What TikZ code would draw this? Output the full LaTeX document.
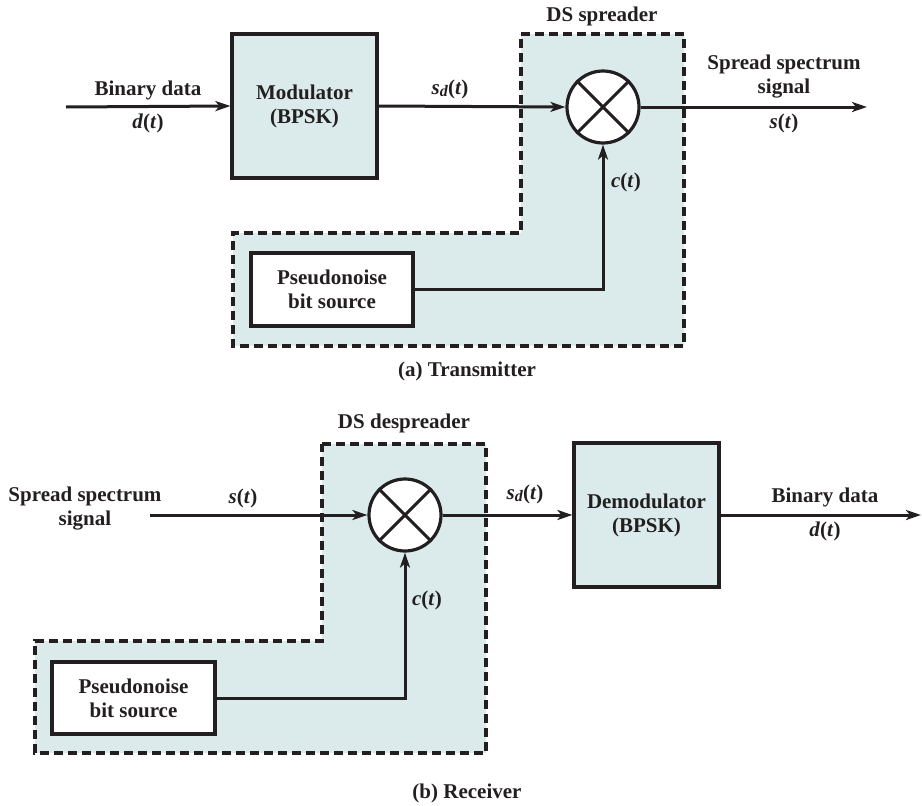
\documentclass[tikz,border=0pt]{standalone}
\usepackage{fontspec}
\setmainfont{Liberation Serif}
\usetikzlibrary{arrows.meta}
\definecolor{fillblue}{RGB}{219,235,236}
\definecolor{ink}{RGB}{35,31,32}
\newcommand\vi[1]{\textit{#1}}
\newcommand\sdt{\vi{s}\raisebox{-0.3ex}{\fontsize{16}{16}\selectfont\vi{d}}(\vi{t})}
\tikzset{
  lbl/.style={font=\fontsize{21}{24}\selectfont\bfseries, text=ink, inner sep=0pt, align=center},
  blockbox/.style={draw=ink, line width=3.2pt, fill=fillblue, inner sep=0pt},
  pnbox/.style={draw=ink, line width=3.2pt, fill=white, inner sep=0pt},
  mixer/.style={circle, draw=ink, line width=3.2pt, fill=white, minimum size=72pt, inner sep=0pt},
  region/.style={draw=ink, line width=3.2pt, fill=fillblue, dash pattern=on 9pt off 5pt},
  sig/.style={draw=ink, line width=3pt},
  arr/.style={sig, -{Stealth[length=15pt,width=10pt,inset=4pt]}}
}
\begin{document}
\begin{tikzpicture}[x=1pt,y=-1pt]
\useasboundingbox (0,0) rectangle (922,806);
% ================= (a) Transmitter =================
\path[region] (521,34) -- (684,34) -- (684,346) -- (233,346) -- (233,233) -- (521,233) -- cycle;
\node[lbl] (dsA) at (602,16) {DS spreader};
\node[blockbox, minimum width=145pt, minimum height=144pt] (mod) at (304.5,106) {};
\node[lbl] (modt) at (mod) {Modulator\\(BPSK)};
\node[mixer] (mixA) at (603,107) {};
\draw[sig] (mixA.45) -- (mixA.225) (mixA.135) -- (mixA.315);
\node[pnbox, minimum width=162pt, minimum height=73pt] (pnA) at (332,289.5) {};
\node[lbl] (pnAt) at (pnA) {Pseudonoise\\bit source};
\coordinate (ain) at (66,107);
\coordinate (aout) at (867,107);
\coordinate (acorner) at (603,289.5);
\draw[arr] (ain) -- (mod.west);
\draw[arr] (mod.east) -- (mixA.west);
\draw[arr] (mixA.east) -- (aout);
\draw[arr] (pnA.east) -- (acorner) -- (mixA.south);
\node[lbl] (bdA) at (148,90) {Binary data};
\node[lbl] (dtA) at (148,123) {\vi{d}(\vi{t})};
\node[lbl] (sdA) at (450,89) {\sdt};
\node[lbl] (ssA) at (784,77) {Spread spectrum\\signal};
\node[lbl] (stA) at (784,123) {\vi{s}(\vi{t})};
\node[lbl] (ctA) at (626,182) {\vi{c}(\vi{t})};
\node[lbl] (capA) at (467,371) {(a) Transmitter};
% ================= (b) Receiver =================
\path[region] (322,444) -- (486,444) -- (486,753) -- (35,753) -- (35,641) -- (322,641) -- cycle;
\node[lbl] (dsB) at (404,423) {DS despreader};
\node[mixer] (mixB) at (405,515) {};
\draw[sig] (mixB.45) -- (mixB.225) (mixB.135) -- (mixB.315);
\node[blockbox, minimum width=145pt, minimum height=144pt] (dem) at (646.5,515) {};
\node[lbl] (demt) at (dem) {Demodulator\\(BPSK)};
\node[pnbox, minimum width=163pt, minimum height=72pt] (pnB) at (133.5,698) {};
\node[lbl] (pnBt) at (pnB) {Pseudonoise\\bit source};
\coordinate (bin) at (150,515);
\coordinate (bout) at (921,515);
\coordinate (bcorner) at (405,698);
\draw[arr] (bin) -- (mixB.west);
\draw[arr] (mixB.east) -- (dem.west);
\draw[arr] (dem.east) -- (bout);
\draw[arr] (pnB.east) -- (bcorner) -- (mixB.south);
\node[lbl] (ssB) at (85,509) {Spread spectrum\\signal};
\node[lbl] (stB) at (243,498) {\vi{s}(\vi{t})};
\node[lbl] (sdB) at (525,494) {\sdt};
\node[lbl] (bdB) at (825,497) {Binary data};
\node[lbl] (dtB) at (825,531) {\vi{d}(\vi{t})};
\node[lbl] (ctB) at (427,600) {\vi{c}(\vi{t})};
\node[lbl] (capB) at (467,793) {(b) Receiver};
\end{tikzpicture}
\end{document}
